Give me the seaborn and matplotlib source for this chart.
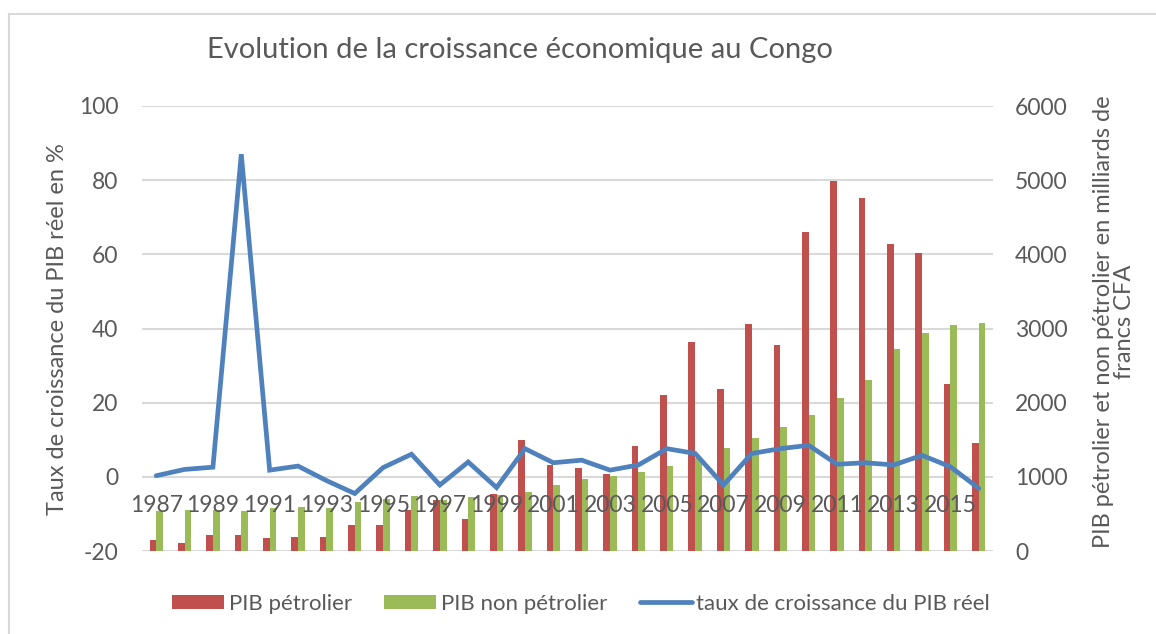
import matplotlib
matplotlib.use("Agg")
import matplotlib.pyplot as plt
import seaborn as sns
import numpy as np
import pandas as pd
from matplotlib.patches import Patch
from matplotlib.lines import Line2D

years = list(range(1987, 2017))
petro = [155, 110, 213, 222, 182, 191, 191, 344, 357, 550, 685, 425, 775, 1503,
         1156, 1121, 1044, 1422, 2109, 2823, 2190, 3066, 2779, 4302, 4984, 4760,
         4140, 4019, 2253, 1458]
nonpetro = [536, 550, 550, 546, 582, 590, 582, 658, 707, 738, 694, 725, 760, 792,
            892, 977, 1008, 1071, 1152, 1256, 1391, 1526, 1674, 1836, 2069, 2302,
            2725, 2941, 3052, 3070]
growth = [0.3, 2.0, 2.6, 87.0, 1.8, 2.9, -1.0, -4.5, 2.5, 6.1, -2.2, 4.0, -2.9,
          7.6, 3.8, 4.5, 1.8, 3.2, 7.6, 6.3, -2.2, 6.3, 7.6, 8.5, 3.4, 3.8, 3.2,
          5.8, 2.7, -3.1]
series_names = ["PIB pétrolier", "PIB non pétrolier", "taux de croissance du PIB réel"]
title = "Evolution de la croissance économique au Congo"
ylabel_left = "Taux de croissance du PIB réel en %"
ylabel_right = "PIB pétrolier et non pétrolier en milliards de\nfrancs CFA"

RED = "#c0504d"
GREEN = "#9bbb59"
BLUE = "#4f81bd"
TXT = "#595959"
GRID = "#d9d9d9"

plt.rcParams["font.family"] = ["Lato", "DejaVu Sans"]
plt.rcParams["axes.unicode_minus"] = False

ylab = [str(y) for y in years]
df = pd.DataFrame({
    "year": ylab * 2,
    "value": petro + nonpetro,
    "serie": [series_names[0]] * len(years) + [series_names[1]] * len(years),
})

W, H = 1156, 634
fig = plt.figure(figsize=(W / 100, H / 100), dpi=100)
x0, x1, y0, y1 = 142, 993, 106, 551
ax = fig.add_axes([x0 / W, 1 - y1 / H, (x1 - x0) / W, (y1 - y0) / H])

sns.barplot(data=df, x="year", y="value", hue="serie", order=ylab,
            hue_order=series_names[:2], palette=[RED, GREEN], saturation=1,
            width=0.47, gap=0, linewidth=0, legend=False, ax=ax)
ax.set_ylim(0, 6000)
ax.set_xlim(-0.5, len(years) - 0.5)
ax.set_axisbelow(True)
ax.yaxis.grid(True, color=GRID, linewidth=1.5)
ax.xaxis.grid(False)
for s in ax.spines.values():
    s.set_visible(False)

ax2 = ax.twinx()
sns.lineplot(x=np.arange(len(years)), y=growth, ax=ax2, color=BLUE,
             linewidth=3.4, legend=False, solid_capstyle="round",
             solid_joinstyle="miter")
ax2.set_ylim(-20, 100)
ax2.set_xlim(-0.5, len(years) - 0.5)
for s in ax2.spines.values():
    s.set_visible(False)

# axis sides: line axis on left, bars axis on right
ax.yaxis.tick_right()
ax.yaxis.set_label_position("right")
ax2.yaxis.tick_left()
ax2.yaxis.set_label_position("left")
ax.set_yticks(np.arange(0, 6001, 1000))
ax2.set_yticks(np.arange(-20, 101, 20))
ax.tick_params(axis="y", length=0, pad=16, labelsize=16.5, labelcolor=TXT)
ax2.tick_params(axis="y", length=0, pad=17, labelsize=16.5, labelcolor=TXT)
for t in ax.get_yticklabels():
    t.set_horizontalalignment("left")

# x labels on the line axis at y=0
ax.tick_params(axis="x", length=0, labelbottom=False)
ax.set_xlabel("")
ax.set_ylabel("")
ax2.xaxis.set_visible(True)
ax2.spines["bottom"].set_position(("data", 0))
ax2.set_xticks(np.arange(0, len(years), 2))
ax2.set_xticklabels(ylab[::2])
ax2.tick_params(axis="x", length=0, pad=13, labelsize=16.5, labelcolor=TXT)
ax2.set_ylabel("")

fig.text(520 / W, 1 - 50 / H, title, ha="center", va="center", fontsize=21, color=TXT)
fig.text(58 / W, 1 - 329 / H, ylabel_left, rotation=90, ha="center", va="center",
         fontsize=17, color=TXT)
fig.text(1114 / W, 1 - 322 / H, ylabel_right, rotation=90, ha="center", va="center",
         multialignment="center", fontsize=17, color=TXT, linespacing=1.0)

handles = [Patch(facecolor=RED, edgecolor="none"),
           Patch(facecolor=GREEN, edgecolor="none"),
           Line2D([0], [0], color=BLUE, linewidth=3.4, solid_capstyle="round")]
fig.legend(handles, series_names, loc="center", bbox_to_anchor=(581 / W, 1 - 604 / H),
           ncol=3, frameon=False, fontsize=16, labelcolor=TXT, handlelength=2.34,
           handleheight=0.63, handletextpad=0.22, columnspacing=1.45)

# chart frame
fig.add_artist(Line2D([9 / W, 9 / W], [0, 1 - 14 / H], transform=fig.transFigure,
                      color=GRID, linewidth=1.5))
fig.add_artist(Line2D([9 / W, 1], [1 - 14 / H, 1 - 14 / H], transform=fig.transFigure,
                      color=GRID, linewidth=1.5))

fig.savefig("out.png", dpi=100, facecolor="white")
